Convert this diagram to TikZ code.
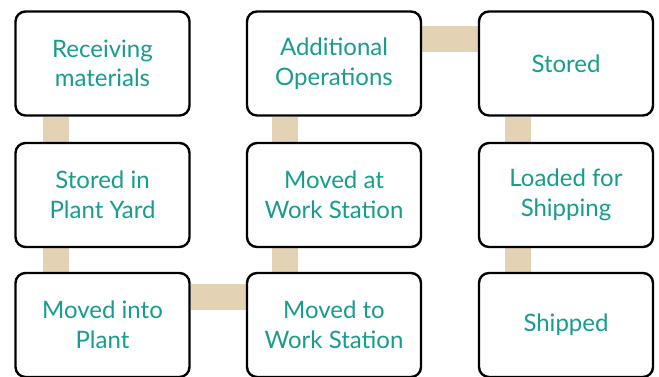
\documentclass[tikz,border=0pt]{standalone}
\usepackage{fontspec}
\setmainfont{Lato}
\usetikzlibrary{positioning,backgrounds}
\definecolor{tealtext}{HTML}{179C8E}
\definecolor{tanlink}{HTML}{E3D3B4}
\tikzset{stage/.style={draw=black,line width=2.4pt,rounded corners=10pt,fill=white,
  minimum width=174pt,minimum height=104pt,align=center,text=tealtext,
  font=\fontsize{24}{29.5}\selectfont}}
\tikzset{link/.style={draw=tanlink,line width=26pt}}
\begin{document}
\begin{tikzpicture}[x=1pt,y=-1pt]
\useasboundingbox (0,0) rectangle (659,377);
% \draw[help lines] (0,0) grid (659,377);
\node (recv) [stage] at (102.5,63.5) {Receiving\\materials};
\node (yard) [stage] at (102.5,195) {Stored in\\Plant Yard};
\node (plant) [stage] at (102.5,325) {Moved into\\Plant};
\node (towork) [stage] at (334,325) {Moved to\\Work Station};
\node (atwork) [stage] at (334,195) {Moved at\\Work Station};
\node (addops) [stage] at (334,63.5) {Additional\\Operations};
\node (stored) [stage] at (566,63.5) {Stored};
\node (load) [stage] at (566,195) {Loaded for\\Shipping};
\node (ship) [stage] at (566,325) {Shipped};
%
\begin{scope}[on background layer]
\draw[link] ([xshift=42pt]recv.south west) -- ([xshift=42pt]yard.north west);
\draw[link] ([xshift=42pt]yard.south west) -- ([xshift=42pt]plant.north west);
\draw[link] ([yshift=-25pt]plant.north east) -- ([yshift=-25pt]towork.north west);
\draw[link] ([xshift=39pt]towork.north west) -- ([xshift=39pt]atwork.south west);
\draw[link] ([xshift=39pt]atwork.north west) -- ([xshift=39pt]addops.south west);
\draw[link] ([yshift=-29pt]addops.north east) -- ([yshift=-29pt]stored.north west);
\draw[link] ([xshift=40pt]stored.south west) -- ([xshift=40pt]load.north west);
\draw[link] ([xshift=40pt]load.south west) -- ([xshift=40pt]ship.north west);
\end{scope}
\end{tikzpicture}
\end{document}
